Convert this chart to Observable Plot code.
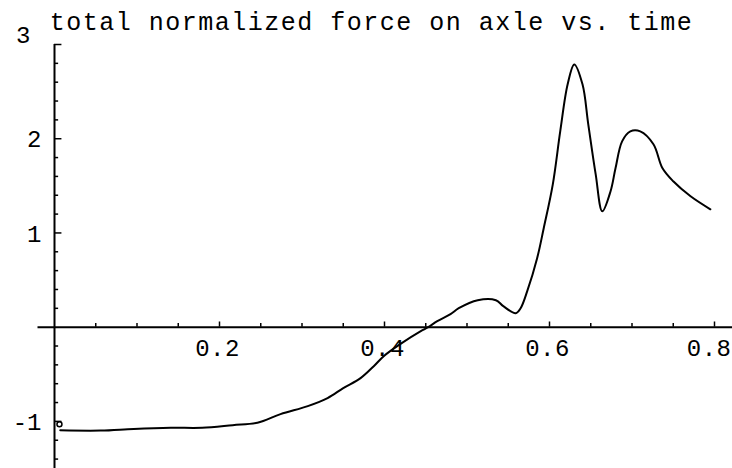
<!DOCTYPE html>
<html>
<head>
<meta charset="utf-8">
<script src="https://cdn.jsdelivr.net/npm/d3@7"></script>
<script src="https://cdn.jsdelivr.net/npm/@observablehq/plot@0.6"></script>
<style>
  html, body { margin: 0; padding: 0; background: #fff; }
  #chart { width: 732px; height: 468px; }
</style>
</head>
<body>
<div id="chart"></div>
<script>
const title = "total normalized force on axle vs. time";

// series: time (x) and total normalized force (y)
const time = [0.007, 0.056, 0.096, 0.141, 0.179, 0.216, 0.246, 0.274, 0.307, 0.331, 0.350, 0.371, 0.387, 0.399, 0.419, 0.444, 0.453, 0.464, 0.480, 0.490, 0.513, 0.535, 0.544, 0.559, 0.565, 0.573, 0.585, 0.593, 0.604, 0.613, 0.622, 0.630, 0.640, 0.647, 0.656, 0.664, 0.674, 0.680, 0.688, 0.698, 0.710, 0.726, 0.737, 0.750, 0.771, 0.795];
const force = [-1.095, -1.098, -1.080, -1.068, -1.068, -1.040, -1.015, -0.923, -0.838, -0.753, -0.647, -0.541, -0.414, -0.308, -0.180, -0.042, 0.000, 0.064, 0.138, 0.201, 0.286, 0.286, 0.223, 0.148, 0.201, 0.382, 0.732, 1.050, 1.516, 2.078, 2.577, 2.789, 2.577, 2.153, 1.622, 1.230, 1.442, 1.686, 1.972, 2.078, 2.078, 1.941, 1.686, 1.548, 1.389, 1.251];

// small open marker at the start of the curve
const startMark = [{t: 0.006, f: -1.03}];

// ticks
const xLabels = [0.2, 0.4, 0.6, 0.8];
const xLabelText = ["0.2", "0.4", "0.6", "0.8"];
const xMinor = [0.05, 0.1, 0.15, 0.25, 0.3, 0.35, 0.45, 0.5, 0.55, 0.65, 0.7, 0.75];
const yLabels = [-1, 1, 2, 3];
const yLabelText = ["-1", "1", "2", "3"];
const yMinor = [-1.4, -1.2, -0.8, -0.6, -0.4, -0.2, 0.2, 0.4, 0.6, 0.8, 1.2, 1.4, 1.6, 1.8, 2.2, 2.4, 2.6, 2.8];

// axis extents
const xAxisExtent = [-0.02, 0.83];
const yAxisExtent = [-1.5, 3];

const data = time.map((t, i) => ({t, f: force[i]}));
const font = "'Liberation Mono', 'DejaVu Sans Mono', monospace";

const chart = Plot.plot({
  width: 732,
  height: 468,
  marginTop: 0, marginRight: 0, marginBottom: 0, marginLeft: 0,
  x: {domain: [0, 0.8], range: [54, 714], axis: null},
  y: {domain: [-1.5, 3], range: [468, 44], axis: null},
  style: {fontFamily: font, background: "#fff"},
  marks: [
    // axes
    Plot.ruleY([0], {x1: xAxisExtent[0], x2: xAxisExtent[1], stroke: "#000", strokeWidth: 2}),
    Plot.ruleX([0], {y1: yAxisExtent[0], y2: yAxisExtent[1], stroke: "#000", strokeWidth: 2}),
    // x ticks (pointing up)
    Plot.ruleX(xLabels, {y1: 0, y2: 0.055, stroke: "#000", strokeWidth: 1.5}),
    Plot.ruleX(xMinor, {y1: 0, y2: 0.04, stroke: "#000", strokeWidth: 1.5}),
    // y ticks (pointing right)
    Plot.ruleY(yLabels, {x1: 0, x2: 0.009, stroke: "#000", strokeWidth: 1.5}),
    Plot.ruleY(yMinor, {x1: 0, x2: 0.005, stroke: "#000", strokeWidth: 1.5}),
    // tick labels
    Plot.text(xLabels.slice(0, 3), {x: d => d, y: 0, text: (d, i) => xLabelText[i], dy: 21, dx: -2, fontSize: 24, fill: "#000"}),
    Plot.text(xLabels.slice(3), {x: d => d, y: 0, text: xLabelText.slice(3), dy: 21, textAnchor: "end", dx: 17, fontSize: 24, fill: "#000"}),
    Plot.text(yLabels.slice(0, 3), {x: 0, y: d => d, text: (d, i) => yLabelText[i], textAnchor: "end", dx: -13, dy: 1, fontSize: 24, fill: "#000"}),
    Plot.text([3], {x: 0, y: d => d, text: ["3"], textAnchor: "end", dx: -24, dy: -9, fontSize: 24, fill: "#000"}),
    // title
    Plot.text([title], {frameAnchor: "top", dx: 5, dy: 12, fontSize: 25, fill: "#000"}),
    // curve
    Plot.line(data, {x: "t", y: "f", stroke: "#000", strokeWidth: 2, curve: "catmull-rom"}),
    Plot.dot(startMark, {x: "t", y: "f", r: 2.5, stroke: "#000", strokeWidth: 1.5, fill: "none"})
  ]
});

// letter spacing to mimic the wide Courier rendering of the original
d3.select(chart).selectAll("text").each(function () {
  const s = this.textContent;
  if (s === title) d3.select(this).attr("letter-spacing", 1.5);
  else if (xLabelText.includes(s)) d3.select(this).attr("letter-spacing", 0.5);
});

document.getElementById("chart").appendChild(chart);
</script>
</body>
</html>
